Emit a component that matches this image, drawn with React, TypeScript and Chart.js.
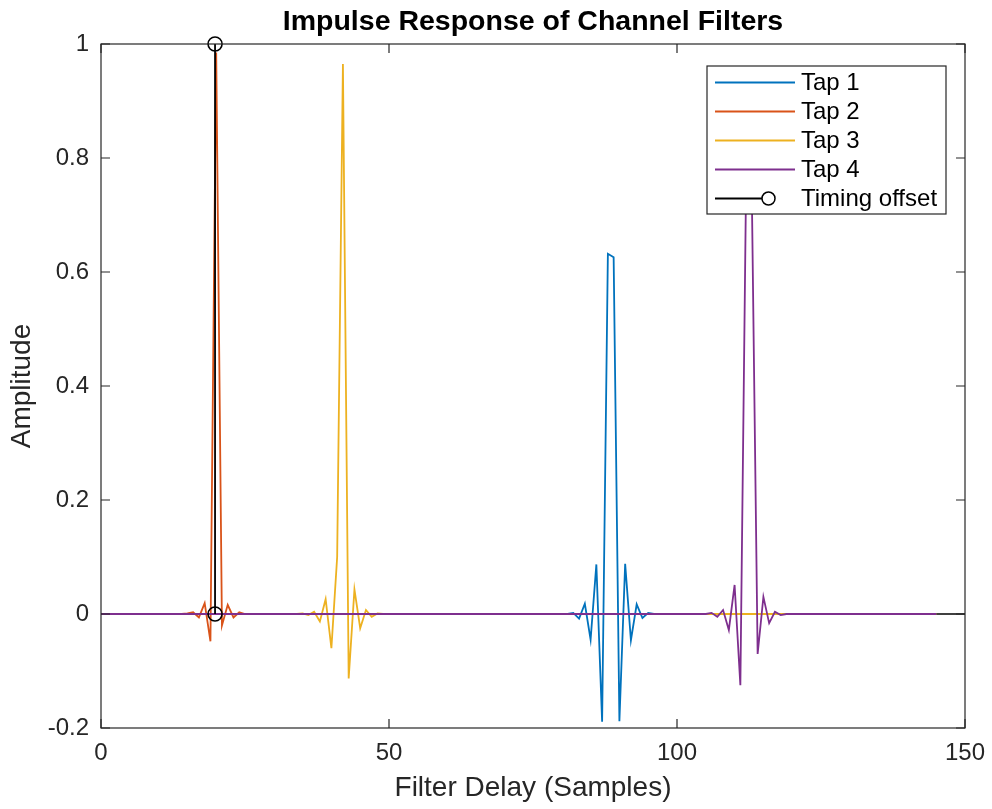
import { useEffect, useRef } from "react";
import { Chart, registerables } from "chart.js";

Chart.register(...registerables);

// ---- Data ----
const tap1Delays = [0, 81, 82, 83, 84, 85, 86, 87, 88, 89, 90, 91, 92, 93, 94, 95, 96, 145];
const tap1Values = [0, 0, 0.002, -0.008, 0.018, -0.045, 0.087, -0.189, 0.632, 0.626, -0.188, 0.088, -0.046, 0.017, -0.007, 0.002, 0, 0];

const tap2Delays = [0, 14, 15, 16, 17, 18, 19, 20, 21, 22, 23, 24, 25, 145];
const tap2Values = [0, 0, 0.001, 0.003, -0.006, 0.019, -0.048, 0.985, -0.02, 0.016, -0.006, 0.003, 0, 0];

const tap3Delays = [0, 34, 35, 36, 37, 38, 39, 40, 41, 42, 43, 44, 45, 46, 47, 48, 49, 145];
const tap3Values = [0, 0, 0.001, -0.002, 0.004, -0.013, 0.026, -0.06, 0.1, 0.965, -0.113, 0.043, -0.025, 0.007, -0.005, 0.001, 0, 0];

const tap4Delays = [0, 105, 106, 107, 108, 109, 110, 111, 112, 113, 114, 115, 116, 117, 118, 119, 145];
const tap4Values = [0, 0, 0.002, -0.005, 0.007, -0.028, 0.051, -0.125, 0.76, 0.73, -0.07, 0.03, -0.016, 0.004, -0.002, 0, 0];

const timingOffsetX = [19.8, 19.8];
const timingOffsetY = [1, 0];

const baselineX = [0, 150];
const baselineY = [0, 0];

const seriesLabels = ["Tap 1", "Tap 2", "Tap 3", "Tap 4", "Timing offset"];
const seriesColors = ["#0072BD", "#D95319", "#EDB120", "#7E2F8E", "#000000"];

const xTicks = [0, 50, 100, 150];
const xTickLabels = ["0", "50", "100", "150"];
const yTicks = [-0.2, 0, 0.2, 0.4, 0.6, 0.8, 1];
const yTickLabels = ["-0.2", "0", "0.2", "0.4", "0.6", "0.8", "1"];

const titleText = "Impulse Response of Channel Filters";
const xTitle = "Filter Delay (Samples)";
const yTitle = "Amplitude";

const FONT = "'Liberation Sans', Arial, Helvetica, sans-serif";
const AXIS_COLOR = "#262626";

const toPoints = (xs: number[], ys: number[]) => xs.map((x, i) => ({ x, y: ys[i] }));

const decorPlugin = {
  id: "matlabDecor",
  afterDraw(chart: any) {
    const { ctx, chartArea } = chart;
    const { left, right, top, bottom } = chartArea;
    const xs = chart.scales.x;
    const ys = chart.scales.y;
    ctx.save();
    // Box
    ctx.strokeStyle = AXIS_COLOR;
    ctx.lineWidth = 1.2;
    ctx.strokeRect(left, top, right - left, bottom - top);
    // Ticks (inward, on all sides)
    const tl = 9;
    ctx.beginPath();
    xTicks.forEach((v) => {
      const px = xs.getPixelForValue(v);
      ctx.moveTo(px, bottom);
      ctx.lineTo(px, bottom - tl);
      ctx.moveTo(px, top);
      ctx.lineTo(px, top + tl);
    });
    yTicks.forEach((v) => {
      const py = ys.getPixelForValue(v);
      ctx.moveTo(left, py);
      ctx.lineTo(left + tl, py);
      ctx.moveTo(right, py);
      ctx.lineTo(right - tl, py);
    });
    ctx.stroke();

    // Title
    ctx.fillStyle = "#000";
    ctx.font = `bold 28.5px ${FONT}`;
    ctx.textAlign = "center";
    ctx.textBaseline = "middle";
    ctx.fillText(titleText, (left + right) / 2, 22);

    // Legend
    const boxRight = right - 19;
    const boxTop = top + 22;
    const boxW = 239;
    const rowH = 29;
    const boxH = 148;
    const boxLeft = boxRight - boxW;
    ctx.fillStyle = "#fff";
    ctx.fillRect(boxLeft, boxTop, boxW, boxH);
    ctx.strokeStyle = AXIS_COLOR;
    ctx.lineWidth = 1.2;
    ctx.strokeRect(boxLeft, boxTop, boxW, boxH);
    ctx.font = `24px ${FONT}`;
    ctx.textAlign = "left";
    ctx.textBaseline = "middle";
    const legendSets = chart.data.datasets.filter((d: any) => d.label);
    legendSets.forEach((d: any, i: number) => {
      const cy = boxTop + 16.5 + i * rowH;
      ctx.strokeStyle = d.borderColor;
      ctx.lineWidth = 1.8;
      ctx.beginPath();
      if (d.pointRadius > 0) {
        ctx.moveTo(boxLeft + 8, cy);
        ctx.lineTo(boxLeft + 55, cy);
        ctx.stroke();
        ctx.lineWidth = 1.5;
        ctx.beginPath();
        ctx.arc(boxLeft + 61.5, cy, 6.5, 0, Math.PI * 2);
        ctx.stroke();
      } else {
        ctx.moveTo(boxLeft + 8, cy);
        ctx.lineTo(boxLeft + 88, cy);
        ctx.stroke();
      }
      ctx.fillStyle = "#000";
      ctx.fillText(d.label, boxLeft + 94, cy + 1);
    });
    ctx.restore();
  },
};

export default function App() {
  const canvasRef = useRef<HTMLCanvasElement | null>(null);

  useEffect(() => {
    const canvas = canvasRef.current;
    if (!canvas) return;
    const tapData = [
      toPoints(tap1Delays, tap1Values),
      toPoints(tap2Delays, tap2Values),
      toPoints(tap3Delays, tap3Values),
      toPoints(tap4Delays, tap4Values),
    ];
    const datasets: any[] = tapData.map((data, i) => ({
      label: seriesLabels[i],
      data,
      borderColor: seriesColors[i],
      backgroundColor: seriesColors[i],
      borderWidth: 1.8,
      pointRadius: 0,
      tension: 0,
      order: 4 - i,
    }));
    datasets.push({
      label: seriesLabels[4],
      data: toPoints(timingOffsetX, timingOffsetY),
      borderColor: seriesColors[4],
      backgroundColor: "rgba(0,0,0,0)",
      borderWidth: 1.8,
      pointRadius: 7,
      pointBorderWidth: 1.6,
      pointStyle: "circle",
      pointBorderColor: seriesColors[4],
      pointBackgroundColor: "rgba(0,0,0,0)",
      clip: false,
      order: 0,
    });
    datasets.push({
      label: "",
      data: toPoints(baselineX, baselineY),
      borderColor: "#000000",
      borderWidth: 1.5,
      pointRadius: 0,
      order: 10,
    });

    const chart = new Chart(canvas, {
      type: "line",
      data: { datasets },
      plugins: [decorPlugin],
      options: {
        animation: false,
        responsive: false,
        maintainAspectRatio: false,
        devicePixelRatio: 1,
        layout: { padding: { top: 44, right: 27, left: 0, bottom: 0 } },
        plugins: {
          legend: { display: false },
          tooltip: { enabled: false },
          title: { display: false },
        },
        scales: {
          x: {
            type: "linear",
            min: 0,
            max: 150,
            grid: { display: false, drawTicks: false },
            border: { display: false },
            afterBuildTicks: (scale: any) => {
              scale.ticks = xTicks.map((v) => ({ value: v }));
            },
            afterFit: (scale: any) => {
              scale.height = 81;
              scale.paddingRight = 0;
              scale.paddingLeft = 0;
            },
            ticks: {
              padding: 11,
              color: AXIS_COLOR,
              font: { family: FONT, size: 24 },
              maxRotation: 0,
              callback: (v: any) => xTickLabels[xTicks.indexOf(Number(v))] ?? "",
            },
            title: {
              display: true,
              text: xTitle,
              color: AXIS_COLOR,
              font: { family: FONT, size: 28 },
              padding: { top: 0, bottom: 4 },
            },
          },
          y: {
            type: "linear",
            min: -0.2,
            max: 1,
            grid: { display: false, drawTicks: false },
            border: { display: false },
            afterBuildTicks: (scale: any) => {
              scale.ticks = yTicks.map((v) => ({ value: v }));
            },
            afterFit: (scale: any) => {
              scale.width = 101;
              scale.paddingTop = 0;
              scale.paddingBottom = 0;
            },
            ticks: {
              padding: 12,
              color: AXIS_COLOR,
              font: { family: FONT, size: 24 },
              callback: (v: any) => {
                const idx = yTicks.findIndex((t) => Math.abs(t - Number(v)) < 1e-9);
                return idx >= 0 ? yTickLabels[idx] : "";
              },
            },
            title: {
              display: true,
              text: yTitle,
              color: AXIS_COLOR,
              font: { family: FONT, size: 28 },
              padding: { top: 5, bottom: 0 },
            },
          },
        },
      },
    });
    return () => chart.destroy();
  }, []);

  return (
    <div style={{ position: "fixed", left: 0, top: 0, width: 992, height: 809, background: "#fff" }}>
      <canvas ref={canvasRef} width={992} height={809} style={{ display: "block", width: 992, height: 809 }} />
    </div>
  );
}
